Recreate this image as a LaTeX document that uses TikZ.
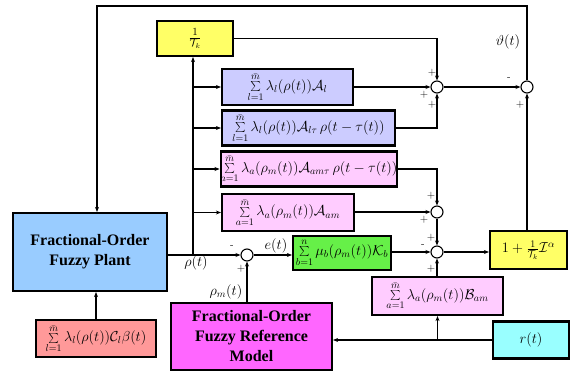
\documentclass[tikz,border=0pt]{standalone}
\usepackage{fontspec}
\newfontfamily\boldserif{Liberation Serif}
\usetikzlibrary{arrows.meta}
\definecolor{cyel}{RGB}{255,255,102}
\definecolor{clav}{RGB}{204,204,255}
\definecolor{cpink}{RGB}{255,204,255}
\definecolor{cgreen}{RGB}{102,240,72}
\definecolor{cblue}{RGB}{153,204,255}
\definecolor{csalmon}{RGB}{255,153,153}
\definecolor{cmag}{RGB}{255,102,255}
\definecolor{ccyan}{RGB}{153,255,255}
\begin{document}
\begin{tikzpicture}[x=1pt,y=-1pt,
  box/.style={draw, line width=2.2pt, inner sep=0pt, align=center, font=\fontsize{14}{17}\selectfont},
  bigtext/.style={box, font=\boldserif\bfseries\fontsize{16}{20}\selectfont},
  sumj/.style={circle, draw, line width=1.1pt, minimum size=12pt, inner sep=0pt, fill=white},
  conn/.style={line width=1.2pt, -{Stealth[length=5pt,width=4pt]}},
  sign/.style={font=\fontsize{11}{11}\selectfont, inner sep=0pt},
  lab/.style={font=\fontsize{14}{17}\selectfont, inner sep=0pt}]
\useasboundingbox (0,0) rectangle (571,372);
% boxes
\node[box, fill=cyel, minimum width=76pt, minimum height=35pt] (tk) at (195,38.5) {\fontsize{15}{17}\selectfont$\frac{1}{\mathcal{T}_k}$};
\node[box, fill=clav, minimum width=131pt, minimum height=36pt] (al) at (287.5,87) {$\sum\limits_{l=1}^{\bar m}\lambda_l(\rho(t))\mathcal{A}_l$};
\node[box, fill=clav, minimum width=173pt, minimum height=35pt] (alt) at (308.5,128) {$\sum\limits_{l=1}^{\bar m}\lambda_l(\rho(t))\mathcal{A}_{l\tau}\,\rho(t-\tau(t))$};
\node[box, fill=cpink, minimum width=172pt, minimum height=35pt] (amt) at (309,169) {$\sum\limits_{a=1}^{\bar m}\lambda_a(\rho_m(t))\mathcal{A}_{am\tau}\,\rho(t-\tau(t))$};
\node[box, fill=cpink, minimum width=132pt, minimum height=37pt] (am) at (288,212.5) {$\sum\limits_{a=1}^{\bar m}\lambda_a(\rho_m(t))\mathcal{A}_{am}$};
\node[box, fill=cgreen, minimum width=98pt, minimum height=34pt] (kb) at (342,253) {$\sum\limits_{b=1}^{n}\mu_b(\rho_m(t))\mathcal{K}_b$};
\node[box, fill=cpink, minimum width=131pt, minimum height=38pt] (bam) at (437.5,296) {$\sum\limits_{a=1}^{\bar m}\lambda_a(\rho_m(t))\mathcal{B}_{am}$};
\node[box, fill=cyel, minimum width=77pt, minimum height=38pt] (integ) at (528.5,250) {$1+\frac{1}{\mathcal{T}_k}\mathcal{I}^{\alpha}$};
\node[box, fill=ccyan, minimum width=76pt, minimum height=37pt] (r) at (531,340) {$r(t)$};
\node[bigtext, fill=cblue, minimum width=154pt, minimum height=78pt] (plant) at (90,252) {Fractional-Order\\Fuzzy Plant};
\node[box, fill=csalmon, minimum width=120pt, minimum height=37pt] (cl) at (96,338.5) {$\sum\limits_{l=1}^{\bar m}\lambda_l(\rho(t))\mathcal{C}_l\beta(t)$};
\node[bigtext, fill=cmag, minimum width=161pt, minimum height=67pt] (ref) at (251.5,336.5) {Fractional-Order\\Fuzzy Reference\\Model};
% summing junctions
\node[sumj] (s1) at (437,87) {};
\node[sumj] (s2) at (527,87) {};
\node[sumj] (s3) at (437,212) {};
\node[sumj] (s4) at (437,252) {};
\node[sumj] (s5) at (247,255) {};
\coordinate (fb) at (97,6);
\coordinate (br) at (193,255);
% connectors
\draw[conn] (s2.north) |- (fb) -- (fb |- plant.north);
\draw[conn] (cl.north) -- (cl.north |- plant.south);
\draw[conn] (plant.east |- s5) -- (s5.west);
\draw[conn, line width=2pt] (br) -- (br |- tk.south);
\draw[conn] (br |- al.west) -- (al.west);
\draw[conn] (br |- alt.west) -- (alt.west);
\draw[conn] (br |- amt.west) -- (amt.west);
\draw[conn] (br |- am.west) -- (am.west);
\draw[conn] (tk.east) -| (s1.north);
\draw[conn] (al.east) -- (s1.west);
\draw[conn] (alt.east) -| (s1.south);
\draw[conn] (s1.east) -- (s2.west);
\draw[conn] (s2 |- integ.north) -- (s2.south);
\draw[conn] (amt.east) -| (s3.north);
\draw[conn] (am.east |- s3) -- (s3.west);
\draw[conn] (s3.south) -- (s4.north);
\draw[conn] (kb.east |- s4) -- (s4.west);
\draw[conn] (s4 |- bam.north) -- (s4.south);
\draw[conn] (s4.east) -- (s4 -| integ.west);
\draw[conn] (s5.east) -- (s5 -| kb.west);
\draw[conn] (s5 |- ref.north) -- (s5.south);
\draw[conn] (r.west) -- (r.west -| ref.east);
\draw[conn] (bam.south |- r.west) -- (bam.south);
% labels
\node[lab] (lrho) at (196,263) {$\rho(t)$};
\node[lab] (le) at (276,246) {$e(t)$};
\node[lab] (lrhom) at (226,292) {$\rho_m(t)$};
\node[lab] (lth) at (508,42) {$\vartheta(t)$};
% signs
\node[sign] at (432,73) {+};
\node[sign] at (424,95) {+};
\node[sign] at (432,105) {+};
\node[sign] at (509,79) {-};
\node[sign] at (520,105) {+};
\node[sign] at (431,196) {+};
\node[sign] at (424,220) {+};
\node[sign] at (431,238) {+};
\node[sign] at (423,246) {-};
\node[sign] at (431,269) {+};
\node[sign] at (232,247) {-};
\node[sign] at (241,269) {+};
\end{tikzpicture}
\end{document}
